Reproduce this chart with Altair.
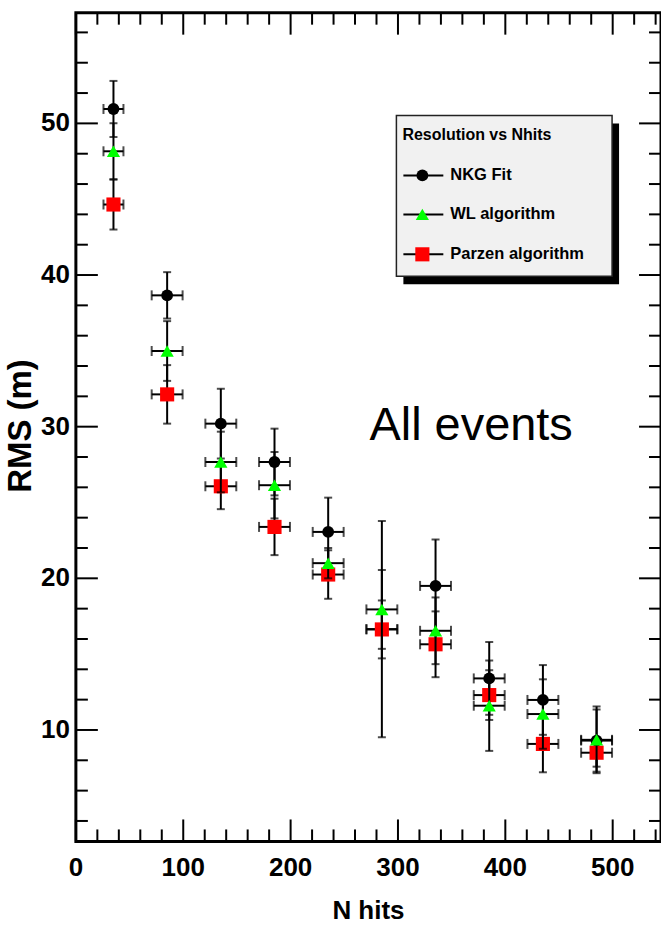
import altair as alt
import pandas as pd

# ---------------- data ----------------
series_names = ["NKG Fit", "WL algorithm", "Parzen algorithm"]
x_centers = [35, 85, 135, 185, 235, 285, 335, 385, 435, 485]
x_err = [9.3, 14.4, 14.4, 14.4, 14.4, 14.4, 14.4, 14.4, 14.4, 14.4]

nkg_rms = [50.95, 38.66, 30.2, 27.67, 23.06, 16.65, 19.5, 13.4, 11.98, 9.3]
nkg_err = [1.85, 1.53, 2.3, 2.2, 2.26, 7.13, 3.06, 2.4, 2.3, 2.05]
wl_rms = [48.16, 34.99, 27.67, 26.14, 21.0, 17.95, 16.54, 11.6, 11.05, 9.35]
wl_err = [1.85, 1.97, 2.0, 2.19, 1.0, 2.6, 2.2, 2.98, 2.29, 2.2]
parzen_rms = [44.65, 32.13, 26.07, 23.39, 20.25, 16.63, 15.65, 12.3, 9.08, 8.5]
parzen_err = [1.65, 1.93, 1.51, 1.86, 1.6, 1.91, 2.17, 1.64, 1.87, 0.92]

x_major = [0, 100, 200, 300, 400, 500]
x_minor = [v for v in range(20, 545, 20) if v % 100 != 0]
y_major = [10, 20, 30, 40, 50]
y_minor = [v for v in range(4, 58, 2) if v % 10 != 0]

x_title = "N hits"
y_title = "RMS (m)"
annotation = "All events"
legend_title = "Resolution vs Nhits"

# ---------------- layout ----------------
W, H = 586, 830
PAD_L, PAD_T = 76, 12
XS = alt.Scale(domain=[0, 545], nice=False, zero=False)
YS = alt.Scale(domain=[2.65, 57.3], nice=False, zero=False)
BOLD = "Liberation Sans, Arial, Helvetica, sans-serif"
SANS = "Liberation Sans, Arial, Helvetica, sans-serif"
GREEN = "#00ff00"
one = pd.DataFrame({"k": [0]})


def X(f):
    return alt.X(f"{f}:Q", scale=XS, axis=None)


def Y(f):
    return alt.Y(f"{f}:Q", scale=YS, axis=None)


def series_layers(vals, errs, color, shape, size):
    df = pd.DataFrame({"x": x_centers, "xe": x_err, "y": vals, "ye": errs})
    base = alt.Chart(df).transform_calculate(
        lo="datum.y - datum.ye", hi="datum.y + datum.ye",
        xlo="datum.x - datum.xe", xhi="datum.x + datum.xe",
    )
    vbar = base.mark_rule(color="black", strokeWidth=2).encode(x=X("x"), y=Y("lo"), y2="hi:Q")
    hbar = base.mark_rule(color="black", strokeWidth=2).encode(x=X("xlo"), x2="xhi:Q", y=Y("y"))
    cap_lo = base.mark_tick(orient="horizontal", size=8, thickness=2, color="black").encode(x=X("x"), y=Y("lo"))
    cap_hi = base.mark_tick(orient="horizontal", size=8, thickness=2, color="black").encode(x=X("x"), y=Y("hi"))
    cap_l = base.mark_tick(orient="vertical", size=10, thickness=2, color="black").encode(x=X("xlo"), y=Y("y"))
    cap_r = base.mark_tick(orient="vertical", size=10, thickness=2, color="black").encode(x=X("xhi"), y=Y("y"))
    mk = base.mark_point(filled=True, shape=shape, size=size, color=color, opacity=1).encode(x=X("x"), y=Y("y"))
    return [vbar, hbar, cap_lo, cap_hi, cap_l, cap_r, mk]


def yticks(vals, length):
    d = alt.Chart(pd.DataFrame({"v": vals}))
    return [
        d.mark_rule(color="black", strokeWidth=2).encode(y=Y("v"), x=alt.value(0), x2=alt.value(length)),
        d.mark_rule(color="black", strokeWidth=2).encode(y=Y("v"), x=alt.value(W - length), x2=alt.value(W)),
    ]


def xticks(vals, length):
    d = alt.Chart(pd.DataFrame({"v": vals}))
    return [
        d.mark_rule(color="black", strokeWidth=2).encode(x=X("v"), y=alt.value(H), y2=alt.value(H - length)),
        d.mark_rule(color="black", strokeWidth=2).encode(x=X("v"), y=alt.value(0), y2=alt.value(length)),
    ]


tick_layers = yticks(y_major, 22) + yticks(y_minor, 12) + xticks(x_major, 22) + xticks(x_minor, 12)

# tick labels and axis titles (ROOT style)
xlab = alt.Chart(pd.DataFrame({"v": x_major})).mark_text(
    align="center", baseline="alphabetic", font=BOLD, fontSize=26, fontWeight="bold", color="black"
).encode(x=X("v"), y=alt.value(H + 35), text="v:Q")
ylab = alt.Chart(pd.DataFrame({"v": y_major})).mark_text(
    align="right", baseline="middle", font=BOLD, fontSize=26, fontWeight="bold", color="black"
).encode(y=Y("v"), x=alt.value(-6), text="v:Q")
xtit = alt.Chart(one).mark_text(
    align="center", baseline="alphabetic", font=BOLD, fontSize=26, fontWeight="bold", color="black"
).encode(x=alt.value(293), y=alt.value(H + 78), text=alt.value(x_title))
ytit = alt.Chart(one).mark_text(
    align="center", baseline="middle", angle=270, font=BOLD, fontSize=33, fontWeight="bold", color="black"
).encode(x=alt.value(-55), y=alt.value(414), text=alt.value(y_title))

data_layers = (
    series_layers(nkg_rms, nkg_err, "#000000", "circle", 140)
    + series_layers(parzen_rms, parzen_err, "#ff0000", "square", 200)
    + series_layers(wl_rms, wl_err, GREEN, "triangle-up", 175)
)

# legend box (ROOT style with shadow)
LX0, LX1, LY0, LY1 = 321, 537, 103, 264
shadow = alt.Chart(one).mark_rect(color="black").encode(
    x=alt.value(LX0 + 7), x2=alt.value(LX1 + 7), y=alt.value(LY0 + 8), y2=alt.value(LY1 + 8))
box = alt.Chart(one).mark_rect(fill="#f1f1f1", stroke="#222222", strokeWidth=1.5).encode(
    x=alt.value(LX0), x2=alt.value(LX1), y=alt.value(LY0), y2=alt.value(LY1))
ltitle = alt.Chart(one).mark_text(align="left", baseline="middle", font=BOLD, fontSize=16,
                                  fontWeight="bold", color="black").encode(
    x=alt.value(327), y=alt.value(123), text=alt.value(legend_title))

legend_layers = [shadow, box, ltitle]
entry_y = [163, 202, 242]
entry_style = [("#000000", "circle", 140), (GREEN, "triangle-up", 175), ("#ff0000", "square", 200)]
for name, ey, (col, shp, sz) in zip(series_names, entry_y, entry_style):
    legend_layers.append(alt.Chart(one).mark_rule(color="black", strokeWidth=2).encode(
        x=alt.value(328), x2=alt.value(368), y=alt.value(ey)))
    legend_layers.append(alt.Chart(one).mark_point(filled=True, shape=shp, size=sz, color=col, opacity=1).encode(
        x=alt.value(347), y=alt.value(ey)))
    legend_layers.append(alt.Chart(one).mark_text(align="left", baseline="middle", font=BOLD, fontSize=16.5,
                                                  fontWeight="bold", color="black").encode(
        x=alt.value(375), y=alt.value(ey), text=alt.value(name)))

note = alt.Chart(one).mark_text(align="left", baseline="alphabetic", font=SANS, fontSize=47,
                                color="black").encode(x=alt.value(294), y=alt.value(428), text=alt.value(annotation))

chart = alt.layer(*tick_layers, *data_layers, *legend_layers, note, xlab, ylab, xtit, ytit).properties(
    width=W, height=H,
    autosize=alt.AutoSizeParams(type="none"),
    padding={"left": PAD_L, "top": PAD_T, "right": 0, "bottom": 86},
    background="white",
).configure_view(stroke="black", strokeWidth=3)

chart.save("out.html", embed_options={"renderer": "svg", "actions": False})
